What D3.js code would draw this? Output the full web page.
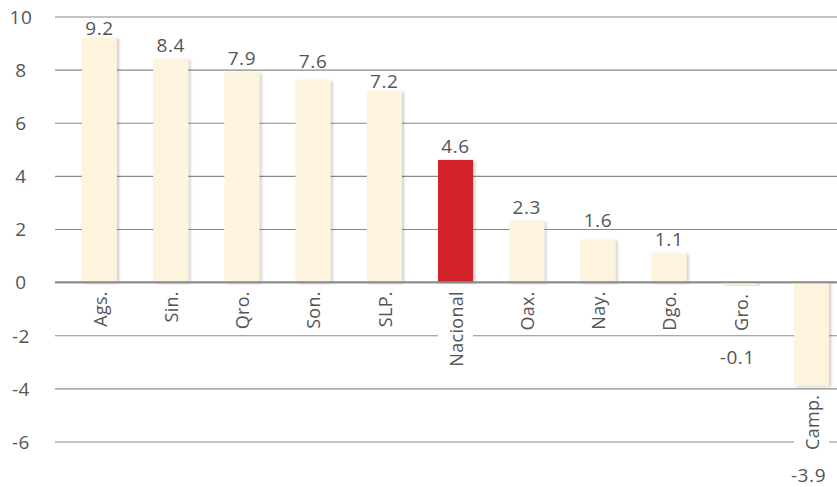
<!DOCTYPE html>
<html>
<head>
<meta charset="utf-8">
<script src="https://cdnjs.cloudflare.com/ajax/libs/d3/7.8.5/d3.min.js"></script>
<style>
  body { margin: 0; background: #fff; }
  text { font-family: "Open Sans", sans-serif; font-weight: 400; fill: #555; letter-spacing: 0.6px; }
  .cat text { letter-spacing: 0.3px; }
</style>
</head>
<body>
<svg id="canvas"></svg>
<script>
var w = 837
var h = 487

// ########## Data ##########
var states = ["Ags.", "Sin.", "Qro.", "Son.", "SLP.", "Nacional", "Oax.", "Nay.", "Dgo.", "Gro.", "Camp."];
var growth = [9.2, 8.4, 7.9, 7.6, 7.2, 4.6, 2.3, 1.6, 1.1, -0.1, -3.9];
var yTicks = [10, 8, 6, 4, 2, 0, -2, -4, -6];
var highlight = "Nacional";

var data = states.map(function (s, i) { return { name: s, value: growth[i] }; });

// ########## SVG ##########
var svg = d3.select("#canvas")
    .attr("width", w)
    .attr("height", h);

var shadow = svg.append("defs").append("filter")
    .attr("id", "shadow")
    .attr("x", "-20%").attr("y", "-20%")
    .attr("width", "150%").attr("height", "150%");
shadow.append("feDropShadow")
    .attr("dx", 2)
    .attr("dy", 1)
    .attr("stdDeviation", 1.6)
    .attr("flood-color", "#000")
    .attr("flood-opacity", 0.2);

// ########## Scales ##########
var x = d3.scalePoint()
    .domain(states)
    .range([99.5, 811.5]);

var barW = 35;
var fs = "19px";

var y = d3.scaleLinear()
    .domain([-6, 10])
    .range([441.5, 16.5]);

// ########## Grid ##########
var yAxis = d3.axisLeft(y)
    .tickValues(yTicks)
    .tickSize(-(w - 55))
    .tickPadding(0)
    .tickFormat(function (d) { return d; });

var grid = svg.append("g")
    .attr("class", "grid")
    .attr("transform", "translate(55,0)")
    .call(yAxis);

grid.select(".domain").remove();
grid.selectAll(".tick line")
    .attr("stroke", "#8a8a8a")
    .attr("stroke-width", 1.2);
grid.selectAll(".tick text")
    .attr("x", -34)
    .attr("text-anchor", "middle")
    .attr("dy", "0.36em")
    .style("font-size", fs)
    .attr("fill", "#555");

// ########## Bars ##########
svg.selectAll(".bar")
    .data(data).enter()
    .append("rect")
    .attr("class", "bar")
    .attr("x", function (d) { return x(d.name) - barW / 2; })
    .attr("y", function (d) { return y(Math.max(0, d.value)); })
    .attr("width", barW)
    .attr("height", function (d) { return Math.abs(y(d.value) - y(0)); })
    .attr("fill", function (d) { return d.name === highlight ? "#d2202a" : "#fef3dc"; })
    .attr("filter", "url(#shadow)");

// zero line on top of the bars
svg.append("line")
    .attr("x1", 55)
    .attr("x2", w)
    .attr("y1", y(0))
    .attr("y2", y(0))
    .attr("stroke", "#8a8a8a")
    .attr("stroke-width", 2);

// ########## Category labels ##########
var cat = svg.selectAll(".cat")
    .data(data).enter()
    .append("g")
    .attr("class", "cat")
    .attr("transform", function (d) {
        return "translate(" + x(d.name) + "," + (y(Math.min(0, d.value)) + 9) + ")";
    });

cat.append("text")
    .attr("transform", "rotate(-90)")
    .attr("text-anchor", "end")
    .attr("dy", "0.4em")
    .style("font-size", "18px")
    .text(function (d) { return d.name; });

// white backing so labels cut the gridlines
cat.each(function (d) {
    var len = d3.select(this).select("text").node().getComputedTextLength();
    d.labelLen = len;
    d3.select(this).insert("rect", "text")
        .attr("x", -barW / 2)
        .attr("y", -1)
        .attr("width", barW)
        .attr("height", len + 1)
        .attr("fill", "#fff");
});

// ########## Value labels ##########
var gridY = yTicks.map(function (t) { return y(t); });

function crosses(base) {
    return gridY.some(function (g) { return g >= base - 15 && g <= base + 1; });
}

svg.selectAll(".val")
    .data(data).enter()
    .append("g")
    .attr("class", "val")
    .each(function (d) {
        var g = d3.select(this);
        var ty, backing = false;
        if (d.value >= 0) {
            var top = y(d.value);
            ty = top - 7;
            if (crosses(ty)) {
                if (!crosses(top - 3)) {
                    ty = top - 3;
                } else {
                    var line = gridY.filter(function (l) { return l <= ty + 1 && l >= ty - 15; })[0];
                    if (line - 2 - 15 > 10) ty = line - 2;
                    else backing = true;
                }
            }
        } else {
            ty = Math.min(y(d.value) + 9 + d.labelLen + 33, h - 5);
        }
        if (backing) {
            g.append("rect")
                .attr("x", x(d.name) - barW / 2)
                .attr("y", ty - 15)
                .attr("width", barW)
                .attr("height", 16)
                .attr("fill", "#fff");
        }
        g.append("text")
            .attr("x", x(d.name) - (d.value < 0 ? 3 : 0))
            .attr("y", ty)
            .attr("text-anchor", "middle")
            .style("font-size", fs)
            .text(d.value.toFixed(1));
    });
</script>
</body>
</html>
